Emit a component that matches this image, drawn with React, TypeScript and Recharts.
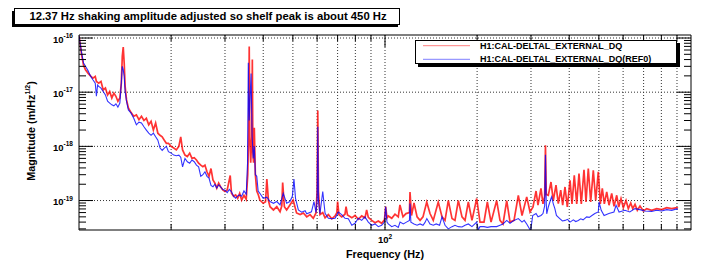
import { LineChart, Line, XAxis, YAxis, CartesianGrid } from 'recharts';

// [frequency Hz, magnitude m/rtHz]
const RED_DQ: [number, number][] = [
  [10.0, 1.1e-16], [10.1, 7.5e-17], [10.2, 4.9e-17], [10.35, 3.1e-17], [10.5, 2.6e-17], [10.7, 2.25e-17],
  [10.9, 2.0e-17], [11.1, 1.82e-17], [11.3, 1.95e-17], [11.4, 1.58e-17], [11.6, 1.47e-17], [11.8, 1.58e-17],
  [12.0, 1.1e-17], [12.2, 1.19e-17], [12.4, 8.9e-18], [12.6, 1.03e-17], [12.8, 7.8e-18], [13.0, 9.6e-18],
  [13.2, 8.4e-18], [13.4, 6.8e-18], [13.6, 7.8e-18], [13.75, 1.47e-17], [13.85, 4.6e-17], [13.95, 6.8e-17],
  [14.05, 3.45e-17], [14.15, 1.28e-17], [14.3, 7.2e-18], [14.5, 5.1e-18], [14.8, 4.2e-18], [15.1, 3.6e-18],
  [15.4, 3.8e-18], [15.7, 3.1e-18], [16.0, 3.6e-18], [16.3, 3.0e-18], [16.6, 3.3e-18], [16.9, 2.5e-18],
  [17.2, 2.9e-18], [17.5, 2.0e-18], [17.8, 2.7e-18], [18.1, 1.75e-18], [18.4, 1.6e-18], [18.7, 1.5e-18],
  [19.0, 1.3e-18], [19.3, 1.14e-18], [19.6, 1.14e-18], [20.0, 1.0e-18], [20.4, 9.3e-19], [20.8, 8.6e-19],
  [21.2, 1.0e-18], [21.5, 1.5e-18], [21.8, 8.6e-19], [22.2, 6.9e-19], [22.6, 6.5e-19], [23.0, 7.5e-19],
  [23.4, 6.0e-19], [23.8, 6.2e-19], [24.2, 5.6e-19], [24.6, 4.9e-19], [25.0, 4.5e-19], [25.4, 4.2e-19],
  [25.8, 4.5e-19], [26.2, 3.4e-19], [26.6, 2.8e-19], [27.0, 3.9e-19], [27.4, 2.4e-19], [27.8, 2.1e-19],
  [28.2, 1.7e-19], [28.6, 2.1e-19], [29.0, 1.8e-19], [29.5, 1.57e-19], [30.0, 1.47e-19], [30.5, 1.57e-19],
  [31.2, 2.9e-19], [31.5, 1.36e-19], [32.0, 1.2e-19], [32.5, 1.27e-19], [33.0, 1.1e-19], [33.5, 1.36e-19],
  [34.0, 1.02e-19], [34.6, 1.25e-19], [35.2, 1.05e-19], [35.6, 3e-19], [35.85, 2e-18], [36.0, 7.0e-17],
  [36.15, 1.5e-18], [36.4, 5e-19], [36.7, 1.5e-18], [36.85, 4.0e-17], [37.0, 8e-19], [37.2, 5e-19],
  [37.4, 2.2e-18], [37.7, 3e-19], [38.1, 1.5e-19], [38.5, 1.3e-19], [39.0, 1.02e-19], [40.0, 8.9e-20],
  [40.7, 9.5e-20], [41.1, 2.5e-19], [41.6, 1.0e-19], [42.1, 7.7e-20], [43.2, 6.7e-20], [44.3, 7.7e-20],
  [45.4, 6.2e-20], [46.0, 8e-20], [46.3, 2.15e-19], [46.9, 7.7e-20], [47.7, 6.7e-20], [48.9, 8.3e-20],
  [50.1, 1.02e-19], [51.4, 5.9e-20], [52.8, 5.5e-20], [54.1, 5.9e-20], [55.5, 5.0e-20], [56.9, 5.5e-20],
  [58.3, 4.7e-20], [59.5, 5.9e-20], [60.0, 1.5e-19], [60.3, 4.6e-18], [60.6, 1.5e-19], [61.3, 5.5e-20],
  [62.6, 6.0e-20], [63.7, 4.8e-20], [65.3, 5.5e-20], [67.0, 4.6e-20], [68.7, 5.2e-20], [69.6, 6e-20],
  [70.0, 9.6e-20], [70.7, 5.5e-20], [72.2, 5.0e-20], [74.0, 5.6e-20], [74.6, 7.7e-20], [75.4, 5.4e-20],
  [77.9, 4.8e-20], [79.8, 5.3e-20], [81.8, 4.5e-20], [83.9, 5.2e-20], [86.0, 4.8e-20], [87.1, 6.7e-20],
  [88.2, 4.9e-20], [90.5, 4.3e-20], [92.8, 3.9e-20], [95.1, 4.2e-20], [97.5, 3.8e-20], [99.6, 4.4e-20],
  [100.5, 7.7e-20], [101.5, 4.8e-20], [102.5, 5.2e-20], [105.2, 4.7e-20], [107.8, 5.6e-20], [110.5, 5.0e-20],
  [111.9, 8.3e-20], [114.5, 5.0e-20], [117.1, 5.75e-20], [120.2, 6e-20], [120.7, 1.44e-19], [122.1, 5.3e-20],
  [124.4, 9.0e-20], [127.3, 5.0e-20], [130.2, 4.3e-20], [133.1, 5.0e-20], [136.9, 9.4e-20], [140.3, 5.75e-20],
  [143.8, 4.3e-20], [149.3, 9.4e-20], [153.6, 5.0e-20], [157.1, 4.3e-20], [161.0, 1.0e-19], [165.6, 4.65e-20],
  [169.3, 4.3e-20], [173.6, 1.0e-19], [178.5, 5.0e-20], [182.6, 4.3e-20], [187.2, 9.4e-20], [192.4, 4.3e-20],
  [199.4, 1.09e-19], [204.4, 4.0e-20], [210.6, 4.0e-20], [216.0, 9.4e-20], [222.1, 4.0e-20], [231.7, 1.0e-19],
  [237.6, 4.3e-20], [243.0, 3.7e-20], [249.9, 1.0e-19], [256.2, 4.0e-20], [264.0, 4.3e-20], [272.7, 1.25e-19],
  [280.4, 5.3e-20], [290.5, 1.17e-19], [297.8, 6.15e-20], [304.6, 7.6e-20], [311.6, 1.5e-19], [316.2, 8.2e-20],
  [323.4, 1.67e-19], [328.3, 8.7e-20], [332.5, 1.2e-19], [334.5, 1.05e-18], [336.5, 1.3e-19], [341.7, 1.25e-19],
  [348.7, 2.2e-19], [354.8, 1.0e-19], [362.1, 1.92e-19], [368.4, 8.8e-20], [375.2, 1.55e-19], [380.8, 8.2e-20],
  [387.5, 1.78e-19], [394.3, 7.6e-20], [402.4, 2.37e-19], [408.4, 8.7e-20], [415.5, 2.93e-19], [423.2, 8.7e-20],
  [430.5, 3.15e-19], [438.0, 8.7e-20], [447.0, 3.7e-19], [453.8, 9.4e-20], [461.7, 3.9e-19], [470.1, 9.4e-20],
  [479.4, 3.6e-19], [488.2, 1.0e-19], [497.8, 3.4e-19], [505.4, 8.7e-20], [513.0, 1.67e-19], [520.9, 8.7e-20],
  [530.4, 1.44e-19], [539.6, 8.2e-20], [550.6, 1.35e-19], [560.4, 7.8e-20], [571.8, 1.25e-19], [580.5, 7.6e-20],
  [590.6, 1.09e-19], [601.0, 7.4e-20], [613.3, 1.0e-19], [624.0, 7.1e-20], [635.4, 9.0e-20], [645.0, 7.1e-20],
  [656.2, 8.5e-20], [667.7, 6.6e-20], [681.3, 7.9e-20], [698.5, 6.4e-20], [716.6, 7.1e-20], [744.1, 6.6e-20],
  [772.6, 7.1e-20], [802.2, 6.8e-20], [833.0, 7.4e-20], [864.9, 7.1e-20], [898.0, 7.4e-20], [906.0, 7.2e-20],
];

const BLUE_REF0: [number, number][] = [
  [10.0, 1.1e-16], [10.1, 7.5e-17], [10.2, 5.3e-17], [10.35, 3.45e-17], [10.5, 3.0e-17], [10.7, 2.5e-17],
  [10.9, 2.0e-17], [11.1, 1.7e-17], [11.3, 1.47e-17], [11.4, 8.4e-18], [11.5, 1.35e-17], [11.6, 1.28e-17],
  [11.8, 1.19e-17], [12.0, 1.03e-17], [12.2, 8.9e-18], [12.4, 6.8e-18], [12.6, 6.3e-18], [12.8, 5.85e-18],
  [13.0, 5.6e-18], [13.2, 6.1e-18], [13.4, 5.3e-18], [13.6, 6.3e-18], [13.75, 1.47e-17], [13.85, 3.0e-17],
  [13.95, 2.6e-17], [14.05, 1.95e-17], [14.15, 1.03e-17], [14.3, 6.8e-18], [14.5, 4.7e-18], [14.8, 4.1e-18],
  [15.1, 3.3e-18], [15.4, 2.5e-18], [15.7, 2.8e-18], [16.0, 2.7e-18], [16.3, 2.3e-18], [16.6, 2.0e-18],
  [16.9, 1.75e-18], [17.2, 1.6e-18], [17.5, 1.75e-18], [17.8, 1.5e-18], [18.1, 1.3e-18], [18.4, 9.3e-19],
  [18.7, 8.4e-19], [19.0, 9.3e-19], [19.3, 1.0e-18], [19.6, 8.0e-19], [20.0, 7.5e-19], [20.4, 6.9e-19],
  [20.8, 6.7e-19], [21.2, 6.9e-19], [21.5, 6.3e-19], [21.8, 4.2e-19], [22.2, 6.0e-19], [22.6, 5.2e-19],
  [23.0, 4.9e-19], [23.4, 5.6e-19], [23.8, 5.2e-19], [24.2, 4.5e-19], [24.6, 4.2e-19], [25.0, 2.8e-19],
  [25.4, 3.0e-19], [25.8, 3.4e-19], [26.2, 2.8e-19], [26.6, 2.6e-19], [27.0, 1.9e-19], [27.4, 1.8e-19],
  [27.8, 2.0e-19], [28.2, 1.7e-19], [28.6, 1.95e-19], [29.0, 1.8e-19], [29.5, 1.6e-19], [30.0, 1.55e-19],
  [30.5, 1.4e-19], [31.0, 1.6e-19], [31.5, 1.45e-19], [32.0, 1.2e-19], [32.5, 1.1e-19], [33.0, 1.22e-19],
  [33.5, 1.27e-19], [34.0, 1.2e-19], [34.6, 1.5e-19], [35.2, 1.3e-19], [35.55, 5e-19], [35.75, 3.5e-17],
  [36.0, 3e-18], [36.5, 2.2e-17], [36.8, 1.5e-18], [37.1, 6e-19], [37.4, 1e-18], [37.7, 3e-19],
  [38.1, 2.8e-19], [38.5, 1.5e-19], [39.0, 1.36e-19], [40.0, 1.1e-19], [41.1, 1.15e-19], [42.1, 9.6e-20],
  [43.2, 8.9e-20], [44.3, 9.6e-20], [45.4, 8.3e-20], [46.5, 1.36e-19], [47.7, 8.9e-20], [48.9, 9.6e-20],
  [49.8, 1.2e-19], [50.4, 2.5e-19], [51.0, 1.1e-19], [52.1, 6.7e-20], [53.4, 6.1e-20], [54.8, 6.5e-20],
  [55.5, 5.7e-20], [57.5, 6.2e-20], [58.6, 9.6e-20], [59.5, 6.0e-20], [60.0, 1.0e-19], [60.3, 2.3e-18],
  [60.6, 1.0e-19], [61.3, 5.7e-20], [62.6, 1.47e-19], [63.7, 5.8e-20], [65.3, 4.7e-20], [67.0, 4.6e-20],
  [68.7, 4.7e-20], [70.4, 6.1e-20], [72.2, 5.5e-20], [74.0, 4.7e-20], [75.9, 4.6e-20], [77.9, 3.5e-20],
  [79.8, 3.8e-20], [81.8, 4.7e-20], [83.9, 4.3e-20], [86.0, 5.0e-20], [88.2, 4.0e-20], [90.5, 3.5e-20],
  [92.8, 3.7e-20], [95.1, 3.3e-20], [97.5, 3.5e-20], [99.6, 4e-20], [100.5, 7.7e-20], [101.5, 4e-20],
  [102.5, 3.7e-20], [105.2, 3.3e-20], [107.8, 3.5e-20], [110.5, 3.2e-20], [112.0, 4.0e-20], [114.8, 3.7e-20],
  [117.5, 4.0e-20], [120.2, 4.3e-20], [120.7, 8.8e-20], [121.5, 4.0e-20], [124.4, 3.7e-20], [127.3, 3.5e-20],
  [130.2, 3.7e-20], [133.1, 3.5e-20], [135.0, 3.9e-20], [137.0, 4.65e-20], [140.3, 3.7e-20], [143.8, 3.5e-20],
  [147.0, 3.7e-20], [150.8, 3.5e-20], [153.6, 5.0e-20], [157.1, 3.5e-20], [161.0, 3.0e-20], [165.6, 3.3e-20],
  [169.3, 3.5e-20], [173.6, 3.3e-20], [178.5, 3.25e-20], [182.6, 3.5e-20], [187.2, 3.7e-20], [192.4, 3.3e-20],
  [199.4, 4.0e-20], [201.8, 2.9e-20], [204.4, 3.3e-20], [210.6, 3.3e-20], [216.0, 3.2e-20], [222.1, 3.3e-20],
  [231.7, 3.3e-20], [237.6, 3.5e-20], [243.0, 3.7e-20], [249.9, 4.3e-20], [256.2, 3.8e-20], [264.0, 4.3e-20],
  [272.7, 4.65e-20], [280.4, 4.0e-20], [285.0, 4.3e-20], [290.5, 3.7e-20], [297.8, 2.9e-20], [299.3, 2.8e-20],
  [303.9, 5.3e-20], [311.6, 5.75e-20], [316.2, 5.0e-20], [323.4, 5.3e-20], [328.3, 5.75e-20], [332.5, 8e-20],
  [334.5, 7e-19], [336.5, 9e-20], [337.7, 5.7e-20], [341.7, 7.6e-20], [348.7, 1.09e-19], [350.5, 1.17e-19],
  [354.8, 8.7e-20], [359.0, 7.1e-20], [363.3, 5.3e-20], [372.5, 4.65e-20], [380.0, 4.2e-20], [387.5, 4.3e-20],
  [395.0, 4.5e-20], [402.4, 4.0e-20], [412.5, 4.4e-20], [420.0, 4.1e-20], [428.3, 4.3e-20], [436.0, 4.6e-20],
  [444.0, 4.4e-20], [456.0, 5.0e-20], [465.0, 4.9e-20], [474.6, 5.3e-20], [485.0, 5.75e-20], [497.8, 6.15e-20],
  [500.5, 9.4e-20], [508.9, 6.6e-20], [520.0, 5.3e-20], [539.0, 5.75e-20], [560.0, 6.15e-20], [569.0, 8.2e-20],
  [582.0, 6.15e-20], [608.0, 6.6e-20], [631.0, 6.15e-20], [656.0, 7.1e-20], [681.0, 6.8e-20], [705.0, 6.4e-20],
  [744.0, 6.3e-20], [772.0, 6.6e-20], [802.0, 6.4e-20], [833.0, 6.8e-20], [865.0, 6.6e-20], [898.0, 7.0e-20],
  [906.0, 6.9e-20],
];

const SERIES = [
  { name: 'H1:CAL-DELTAL_EXTERNAL_DQ', color: '#ff0000', width: 1.7, points: RED_DQ },
  { name: 'H1:CAL-DELTAL_EXTERNAL_DQ(REF0)', color: '#0000ff', width: 1.1, points: BLUE_REF0 },
];

const TITLE = '12.37 Hz shaking amplitude adjusted so shelf peak is about 450 Hz';
const X_LABEL = 'Frequency (Hz)';

const X_DOMAIN = [10, 1000];
const Y_DOMAIN = [2.86e-20, 1.136e-16];
const X_TICKS = [20, 30, 40, 50, 60, 70, 80, 90, 100, 200, 300, 400, 500, 600, 700, 800, 900];
const X_MAJOR = [100];
const Y_MAJOR = [1e-19, 1e-18, 1e-17, 1e-16];
const MANTISSAS = [2, 3, 4, 5, 6, 7, 8, 9];
const Y_TICKS = [
  ...Y_MAJOR,
  ...[1e-20, 1e-19, 1e-18, 1e-17].flatMap((d) => MANTISSAS.map((m) => m * d)).filter((v) => v >= Y_DOMAIN[0]),
];

const FONT = '"Liberation Sans", Arial, Helvetica, sans-serif';

const isMajor = (v: number, list: number[]) => list.some((m) => Math.abs(v / m - 1) < 1e-6);
const exponent = (v: number) => Math.round(Math.log10(v));

const LeftTick = (props: any) => {
  const { x, y, payload } = props;
  const major = isMajor(payload.value, Y_MAJOR);
  return (
    <g>
      <line x1={x} x2={x + (major ? 14 : 7)} y1={y} y2={y} stroke="#000" />
      {major && (
        <text x={x - 6} y={y + 4.5} textAnchor="end" fontFamily={FONT} fontWeight="bold" fontSize={9.5} fill="#000">
          10<tspan dy={-4.5} fontSize={6.5}>{exponent(payload.value)}</tspan>
        </text>
      )}
    </g>
  );
};

const RightTick = (props: any) => {
  const { x, y, payload } = props;
  const major = isMajor(payload.value, Y_MAJOR);
  return <line x1={x} x2={x - (major ? 14 : 7)} y1={y} y2={y} stroke="#000" />;
};

const BottomTick = (props: any) => {
  const { x, y, payload } = props;
  const major = isMajor(payload.value, X_MAJOR);
  return (
    <g>
      <line x1={x} x2={x} y1={y} y2={y - (major ? 12 : 6)} stroke="#000" />
      {major && (
        <text x={x} y={y + 13} textAnchor="middle" fontFamily={FONT} fontWeight="bold" fontSize={9.5} fill="#000">
          10<tspan dy={-4.5} fontSize={6.5}>{exponent(payload.value)}</tspan>
        </text>
      )}
    </g>
  );
};

const TopTick = (props: any) => {
  const { x, y, payload } = props;
  const major = isMajor(payload.value, X_MAJOR);
  return <line x1={x} x2={x} y1={y} y2={y + (major ? 12 : 6)} stroke="#000" />;
};

const axisCommon = {
  type: 'number' as const,
  scale: 'log' as const,
  allowDataOverflow: true,
  interval: 0 as const,
  tickSize: 0,
  tickMargin: 0,
  tickLine: false,
  axisLine: { stroke: '#000' },
};

export default function App() {
  return (
    <div style={{ position: 'absolute', left: 0, top: 0, width: 709, height: 261, background: '#fff' }}>
      <LineChart width={709} height={261} margin={{ top: 34, right: 17, bottom: 30, left: 78 }}>
        <CartesianGrid
          horizontal
          vertical
          horizontalValues={Y_MAJOR}
          verticalValues={X_TICKS}
          stroke="#333"
          strokeDasharray="1 2"
        />
        <XAxis {...axisCommon} dataKey="f" domain={X_DOMAIN} ticks={X_TICKS} height={1} tick={<BottomTick />} />
        <XAxis
          {...axisCommon}
          xAxisId="top"
          orientation="top"
          dataKey="f"
          domain={X_DOMAIN}
          ticks={X_TICKS}
          height={1}
          tick={<TopTick />}
        />
        <YAxis {...axisCommon} domain={Y_DOMAIN} ticks={Y_TICKS} width={1} tick={<LeftTick />} />
        <YAxis
          {...axisCommon}
          yAxisId="r"
          orientation="right"
          domain={Y_DOMAIN}
          ticks={Y_TICKS}
          width={1}
          tick={<RightTick />}
        />
        {SERIES.map((s) => (
          <Line
            key={s.name}
            name={s.name}
            data={s.points.map(([f, v]) => ({ f, v }))}
            dataKey="v"
            type="linear"
            stroke={s.color}
            strokeWidth={s.width}
            strokeOpacity={0.8}
            dot={false}
            isAnimationActive={false}
          />
        ))}
      </LineChart>

      <svg width={709} height={261} style={{ position: 'absolute', left: 0, top: 0, pointerEvents: 'none' }}>
        {/* title box */}
        <rect x={12} y={11} width={386} height={16} fill="#000" />
        <rect x={14.5} y={8.5} width={385} height={16} fill="#fff" stroke="#000" />
        <text x={208} y={19.5} textAnchor="middle" fontFamily={FONT} fontWeight="bold" fontSize={11.3} fill="#000">
          {TITLE}
        </text>

        {/* legend */}
        <rect x={418} y={43} width={262} height={24} fill="#000" />
        <rect x={415.5} y={40.5} width={261} height={23} fill="#fff" stroke="#000" />
        {SERIES.map((s, i) => (
          <g key={s.name}>
            <line x1={423} x2={470} y1={45.7 + i * 13.6} y2={45.7 + i * 13.6} stroke={s.color} strokeOpacity={0.5} />
            <text x={480} y={48.8 + i * 13.6} fontFamily={FONT} fontWeight="bold" fontSize={9} fill="#000">
              {s.name}
            </text>
          </g>
        ))}

        {/* axis titles */}
        <text x={385} y={257.5} textAnchor="middle" fontFamily={FONT} fontWeight="bold" fontSize={10.8} fill="#000">
          {X_LABEL}
        </text>
        <text
          transform="translate(34.5,131) rotate(-90)"
          textAnchor="middle"
          fontFamily={FONT}
          fontWeight="bold"
          fontSize={10.8}
          fill="#000"
        >
          Magnitude (m/Hz<tspan dy={-4.5} fontSize={7}>1/2</tspan><tspan dy={4.5}>)</tspan>
        </text>
      </svg>
    </div>
  );
}
